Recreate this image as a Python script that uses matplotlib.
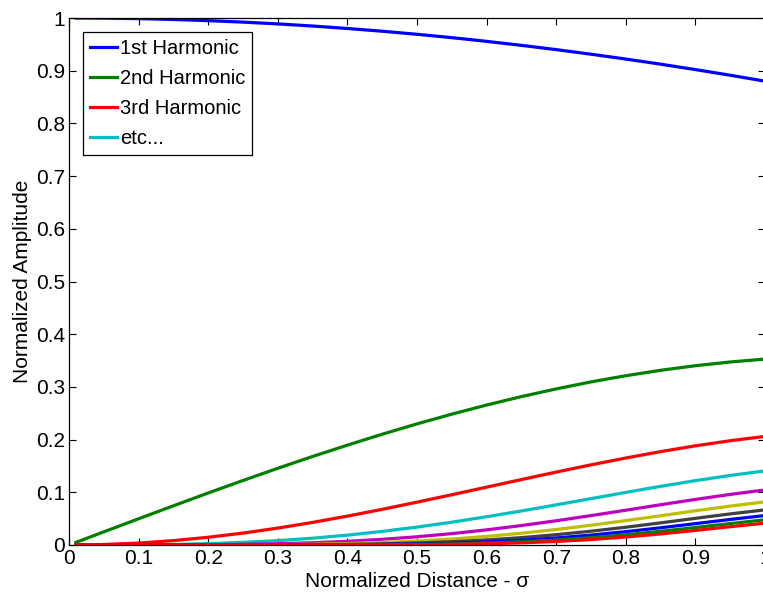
import matplotlib
matplotlib.use("Agg")
import matplotlib.pyplot as plt

# normalized distance (sigma) sample points
sigma = [0.01, 0.05, 0.10, 0.15, 0.20, 0.25, 0.30, 0.35, 0.40, 0.45, 0.50,
         0.55, 0.60, 0.65, 0.70, 0.75, 0.80, 0.85, 0.90, 0.95, 1.00]

# harmonic amplitudes
h1 = [1.0000, 0.9997, 0.9988, 0.9972, 0.9950, 0.9922, 0.9888, 0.9848, 0.9801, 0.9749, 0.9691,
      0.9627, 0.9557, 0.9481, 0.9400, 0.9313, 0.9221, 0.9124, 0.9021, 0.8914, 0.8801]
h2 = [0.0050, 0.0250, 0.0498, 0.0744, 0.0987, 0.1224, 0.1456, 0.1680, 0.1895, 0.2102, 0.2298,
      0.2483, 0.2656, 0.2816, 0.2962, 0.3095, 0.3212, 0.3315, 0.3402, 0.3473, 0.3528]
h3 = [0.0000, 0.0009, 0.0037, 0.0083, 0.0147, 0.0226, 0.0321, 0.0429, 0.0548, 0.0677, 0.0813,
      0.0954, 0.1098, 0.1242, 0.1384, 0.1521, 0.1651, 0.1772, 0.1882, 0.1979, 0.2060]
h4 = [0.0000, 0.0000, 0.0003, 0.0011, 0.0026, 0.0050, 0.0084, 0.0129, 0.0187, 0.0258, 0.0340,
      0.0433, 0.0536, 0.0646, 0.0762, 0.0880, 0.0998, 0.1113, 0.1221, 0.1320, 0.1406]
h5 = [0.0000, 0.0000, 0.0000, 0.0002, 0.0005, 0.0012, 0.0024, 0.0043, 0.0070, 0.0108, 0.0156,
      0.0216, 0.0287, 0.0369, 0.0460, 0.0558, 0.0660, 0.0764, 0.0865, 0.0960, 0.1045]
h6 = [0.0000, 0.0000, 0.0000, 0.0000, 0.0001, 0.0003, 0.0007, 0.0015, 0.0028, 0.0048, 0.0076,
      0.0114, 0.0163, 0.0223, 0.0294, 0.0375, 0.0463, 0.0555, 0.0649, 0.0738, 0.0819]
h7 = [0.0000, 0.0000, 0.0000, 0.0000, 0.0000, 0.0001, 0.0002, 0.0006, 0.0012, 0.0022, 0.0039,
      0.0063, 0.0096, 0.0140, 0.0196, 0.0262, 0.0337, 0.0420, 0.0506, 0.0590, 0.0667]
h8 = [0.0000, 0.0000, 0.0000, 0.0000, 0.0000, 0.0000, 0.0001, 0.0002, 0.0005, 0.0011, 0.0020,
      0.0036, 0.0059, 0.0091, 0.0134, 0.0188, 0.0253, 0.0327, 0.0405, 0.0485, 0.0559]
h9 = [0.0000, 0.0000, 0.0000, 0.0000, 0.0000, 0.0000, 0.0000, 0.0001, 0.0002, 0.0005, 0.0011,
      0.0021, 0.0037, 0.0060, 0.0094, 0.0139, 0.0194, 0.0260, 0.0332, 0.0407, 0.0478]
h10 = [0.0000, 0.0000, 0.0000, 0.0000, 0.0000, 0.0000, 0.0000, 0.0000, 0.0001, 0.0003, 0.0006,
       0.0012, 0.0023, 0.0041, 0.0067, 0.0104, 0.0152, 0.0210, 0.0277, 0.0347, 0.0415]

harmonics = [h1, h2, h3, h4, h5, h6, h7, h8, h9, h10]
labels = ['1st Harmonic', '2nd Harmonic', '3rd Harmonic', 'etc...']
ticks = [0, 0.1, 0.2, 0.3, 0.4, 0.5, 0.6, 0.7, 0.8, 0.9, 1]
tick_labels = ['0', '0.1', '0.2', '0.3', '0.4', '0.5', '0.6', '0.7', '0.8', '0.9', '1']

# matlab default colour order
colors = [(0, 0, 1), (0, 0.5, 0), (1, 0, 0), (0, 0.75, 0.75), (0.75, 0, 0.75),
          (0.75, 0.75, 0), (0.25, 0.25, 0.25)]

plt.rcParams['font.family'] = ['Liberation Sans', 'DejaVu Sans']
plt.rcParams['font.size'] = 15

fig = plt.figure(figsize=(7.63, 5.93), dpi=100)
ax = fig.add_axes([69 / 763, 48 / 593, 696 / 763, 527 / 593])

lines = []
for i, h in enumerate(harmonics):
    ln, = ax.plot(sigma, h, color=colors[i % len(colors)], lw=2.3)
    lines.append(ln)

ax.set_xlim(0, 1)
ax.set_ylim(0, 1)
ax.set_xticks(ticks)
ax.set_xticklabels(tick_labels)
ax.set_yticks(ticks)
ax.set_yticklabels(tick_labels)
ax.tick_params(direction='in', length=5, width=0.8, top=True, right=True, pad=3)
for sp in ax.spines.values():
    sp.set_linewidth(0.9)

ax.set_xlabel('Normalized Distance - σ', labelpad=3)
ax.set_ylabel('Normalized Amplitude', labelpad=3)

leg = ax.legend(lines[:4], labels, loc='upper left', fontsize=14.5, fancybox=False,
                framealpha=1, edgecolor='black', handlelength=1.35, handletextpad=0.12,
                labelspacing=0.55, borderaxespad=0.7, borderpad=0.35)
leg.get_frame().set_linewidth(0.9)

fig.savefig('out.png')
